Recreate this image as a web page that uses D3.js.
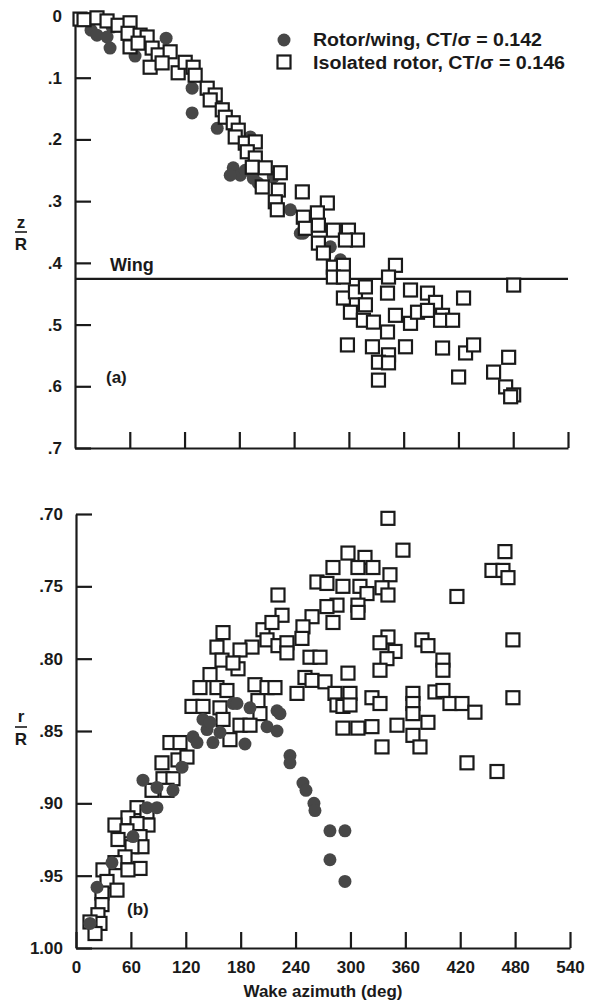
<!DOCTYPE html>
<html>
<head>
<meta charset="utf-8">
<script src="https://cdn.jsdelivr.net/npm/d3@7"></script>
<style>
  body { margin: 0; background: #fff; }
  text { font-family: "Liberation Sans", Arial, sans-serif; font-weight: bold; fill: #1a1a1a; }
</style>
</head>
<body>
<script>
// tick values
var azTicks = [0, 60, 120, 180, 240, 300, 360, 420, 480, 540];
var zTicks = [0, 0.1, 0.2, 0.3, 0.4, 0.5, 0.6, 0.7];
var rTicks = [0.70, 0.75, 0.80, 0.85, 0.90, 0.95, 1.00];
var wingZ = 0.426;

// (a) vertical displacement z/R vs wake azimuth
var rotorWingZ = [
  [17.6, 0.023], [24.1, 0.031], [38.4, 0.052], [35.1, 0.034], [40.6, 0.018],
  [65.8, 0.065], [99.8, 0.036], [128.3, 0.117], [128.3, 0.157], [155.8, 0.182],
  [192.0, 0.196], [173.3, 0.246], [181.0, 0.258], [195.3, 0.263], [186.5, 0.250],
  [217.2, 0.261], [235.9, 0.314], [250.1, 0.352], [279.7, 0.374], [290.7, 0.395],
  [294.0, 0.412], [170.0, 0.258], [200.8, 0.271], [246.8, 0.352]
];
var isolatedZ = [
  [5.5, 0.005], [9.9, 0.006], [24.1, 0.003], [35.1, 0.008], [47.2, 0.015],
  [60.3, 0.011], [58.1, 0.028], [71.3, 0.031], [79.0, 0.034], [60.3, 0.050],
  [69.1, 0.044], [84.5, 0.052], [91.1, 0.063], [104.2, 0.058], [82.3, 0.083],
  [95.4, 0.076], [113.0, 0.092], [120.7, 0.075], [129.4, 0.083], [131.6, 0.096],
  [144.8, 0.117], [153.6, 0.128], [148.1, 0.136], [161.3, 0.152], [164.6, 0.164],
  [173.3, 0.173], [178.8, 0.185], [175.5, 0.196], [186.5, 0.206], [197.5, 0.204],
  [188.7, 0.220], [197.5, 0.230], [194.2, 0.245], [208.4, 0.246], [224.9, 0.254],
  [205.1, 0.277], [222.7, 0.282], [249.0, 0.285], [219.4, 0.301], [221.6, 0.314],
  [276.4, 0.303], [250.1, 0.326], [265.5, 0.319], [252.3, 0.344], [266.6, 0.339],
  [283.0, 0.347], [299.5, 0.347], [309.4, 0.363], [266.6, 0.368], [296.2, 0.363],
  [272.1, 0.384], [283.0, 0.407], [294.0, 0.404], [351.0, 0.404], [283.0, 0.423],
  [294.0, 0.423], [343.4, 0.423], [480.5, 0.436], [294.0, 0.457], [307.2, 0.447],
  [318.1, 0.439], [342.3, 0.449], [367.5, 0.444], [386.1, 0.449], [394.9, 0.464],
  [425.6, 0.457], [301.7, 0.480], [318.1, 0.468], [315.9, 0.493], [326.9, 0.496],
  [351.0, 0.485], [367.5, 0.498], [375.2, 0.480], [386.1, 0.477], [402.6, 0.485],
  [400.4, 0.493], [413.6, 0.493], [342.3, 0.512], [298.4, 0.533], [325.8, 0.536],
  [343.4, 0.549], [362.0, 0.536], [332.4, 0.561], [343.4, 0.562], [402.6, 0.538],
  [427.8, 0.546], [436.6, 0.533], [332.4, 0.590], [420.2, 0.585], [458.5, 0.577],
  [475.0, 0.553], [471.7, 0.601], [480.5, 0.614], [477.2, 0.617]
];

// (b) radial position r/R vs wake azimuth
var rotorWingR = [
  [15.3, 0.983], [23.0, 0.958], [39.3, 0.941], [62.3, 0.923], [77.6, 0.903],
  [88.5, 0.903], [73.2, 0.884], [88.5, 0.889], [106.0, 0.891], [115.9, 0.875],
  [127.9, 0.854], [138.8, 0.842], [143.2, 0.849], [146.5, 0.844], [157.4, 0.851],
  [132.3, 0.858], [149.7, 0.858], [171.6, 0.831], [176.0, 0.831], [190.2, 0.834],
  [219.7, 0.836], [223.0, 0.838], [208.8, 0.847], [219.7, 0.850], [184.7, 0.859],
  [233.9, 0.867], [233.9, 0.872], [248.1, 0.886], [251.4, 0.891], [260.1, 0.900],
  [261.2, 0.905], [277.6, 0.919], [294.0, 0.919], [277.6, 0.939], [294.0, 0.954]
];
var isolatedR = [
  [220.8, 0.756], [204.4, 0.780], [208.8, 0.787], [220.8, 0.791], [192.4, 0.792],
  [179.3, 0.794], [160.7, 0.782], [154.1, 0.792], [159.6, 0.801], [177.1, 0.807],
  [146.5, 0.811], [135.5, 0.820], [154.1, 0.820], [165.0, 0.822], [195.6, 0.818],
  [208.8, 0.820], [217.5, 0.820], [126.8, 0.833], [138.8, 0.833], [157.4, 0.834],
  [198.9, 0.829], [201.1, 0.838], [160.7, 0.842], [179.3, 0.846], [190.2, 0.846],
  [168.3, 0.856], [102.7, 0.858], [113.7, 0.858], [94.0, 0.872], [111.5, 0.870],
  [121.3, 0.868], [95.1, 0.883], [106.0, 0.883], [83.1, 0.891], [99.5, 0.891],
  [171.6, 0.803],
  [66.7, 0.903], [77.6, 0.906], [56.8, 0.910], [42.6, 0.915], [78.7, 0.915],
  [66.7, 0.914], [55.7, 0.919], [70.0, 0.923], [72.1, 0.930], [61.2, 0.930],
  [45.9, 0.925], [53.6, 0.937], [42.6, 0.941], [70.0, 0.945], [56.8, 0.946],
  [29.5, 0.946], [33.9, 0.954], [44.8, 0.960], [28.4, 0.962], [28.4, 0.970],
  [24.0, 0.977], [26.2, 0.983], [15.3, 0.982], [20.8, 0.990],
  [341.0, 0.703], [357.4, 0.725], [468.9, 0.726], [454.7, 0.739], [466.7, 0.739],
  [472.2, 0.744], [297.3, 0.727], [315.9, 0.730], [280.9, 0.737], [308.2, 0.737],
  [324.6, 0.737], [343.2, 0.742], [263.4, 0.747], [274.3, 0.748], [291.8, 0.750],
  [310.4, 0.750], [334.5, 0.751], [341.0, 0.756], [318.1, 0.755], [416.4, 0.757],
  [285.3, 0.763], [308.2, 0.763], [274.3, 0.764], [280.9, 0.775], [308.2, 0.768],
  [258.0, 0.771], [248.1, 0.778], [225.2, 0.770], [214.2, 0.775], [247.0, 0.786],
  [230.6, 0.789], [230.6, 0.796], [341.0, 0.785], [332.3, 0.789], [348.7, 0.795],
  [339.9, 0.800], [332.3, 0.808], [378.2, 0.787], [384.7, 0.791], [401.1, 0.801],
  [401.1, 0.808], [477.6, 0.787], [255.8, 0.799], [266.7, 0.799], [297.3, 0.810],
  [250.3, 0.813], [258.0, 0.815], [272.2, 0.816], [241.6, 0.824], [283.1, 0.824],
  [299.5, 0.824], [285.3, 0.832], [291.8, 0.833], [299.5, 0.832], [323.5, 0.827],
  [332.3, 0.831], [368.3, 0.824], [368.3, 0.831], [368.3, 0.838], [392.4, 0.823],
  [401.1, 0.822], [408.8, 0.831], [421.9, 0.831], [436.1, 0.837], [477.6, 0.827],
  [291.8, 0.848], [308.2, 0.848], [323.5, 0.847], [350.9, 0.846], [368.3, 0.853],
  [384.7, 0.844], [334.5, 0.861], [376.0, 0.861], [427.4, 0.872], [460.2, 0.878]
];

var W = 589, H = 1006;
var ink = "#1a1a1a";
var dotFill = "#474747";

// Create SVG
var svg = d3.select("body")
  .append("svg")
  .attr("width", W)
  .attr("height", H);

var xTop = d3.scaleLinear().domain([0, 540]).range([75, 568]);
var yTop = d3.scaleLinear().domain([0, 0.7]).range([16, 448]);
var xBot = d3.scaleLinear().domain([0, 540]).range([76, 570]);
var yBot = d3.scaleLinear().domain([0.70, 1.00]).range([514, 948]);

function styleAxis(g) {
  g.select(".domain").attr("stroke", ink).attr("stroke-width", 2.2);
  g.selectAll(".tick line").attr("stroke", ink).attr("stroke-width", 2.2);
  g.selectAll(".tick text").attr("font-size", "17px").attr("fill", ink)
    .attr("font-family", '"Liberation Sans", Arial, sans-serif').attr("font-weight", "bold");
}

function drawDots(g, data, x, y) {
  g.selectAll("circle")
    .data(data)
    .enter()
    .append("circle")
      .attr("cx", function(d) { return x(d[0]); })
      .attr("cy", function(d) { return y(d[1]); })
      .attr("r", 6.5)
      .attr("fill", dotFill);
}

function drawBoxes(g, data, x, y) {
  g.selectAll("rect")
    .data(data)
    .enter()
    .append("rect")
      .attr("x", function(d) { return x(d[0]) - 6.5; })
      .attr("y", function(d) { return y(d[1]) - 6.5; })
      .attr("width", 13).attr("height", 13)
      .attr("fill", "#fff").attr("stroke", ink).attr("stroke-width", 2.2);
}

// ---- panel (a) ----
svg.append("g")
  .attr("transform", "translate(" + xTop(0) + ",0)")
  .call(d3.axisLeft(yTop).tickValues(zTicks).tickSize(-16).tickSizeOuter(0).tickPadding(13)
    .tickFormat(function(d) { return d === 0 ? "0" : d3.format(".1f")(d).replace("0.", "."); }))
  .call(styleAxis);

svg.append("g")
  .attr("transform", "translate(0," + yTop(0.7) + ")")
  .call(d3.axisBottom(xTop).tickValues(azTicks.slice(1)).tickSize(-16).tickSizeOuter(0).tickFormat(""))
  .call(styleAxis);

// wing line
svg.append("line")
  .attr("x1", xTop(0)).attr("x2", xTop(540))
  .attr("y1", yTop(wingZ)).attr("y2", yTop(wingZ))
  .attr("stroke", ink).attr("stroke-width", 2.2);

svg.append("text").attr("x", 110).attr("y", 271).attr("font-size", "18px").text("Wing");
svg.append("text").attr("x", 106).attr("y", 383).attr("font-size", "17px").text("(a)");

// y label z/R
svg.append("text").attr("x", 21).attr("y", 228).attr("text-anchor", "middle").attr("font-size", "17px").text("z");
svg.append("line").attr("x1", 15).attr("x2", 27).attr("y1", 232).attr("y2", 232).attr("stroke", ink).attr("stroke-width", 1.6);
svg.append("text").attr("x", 21).attr("y", 250).attr("text-anchor", "middle").attr("font-size", "17px").text("R");

// points: squares sit over the dots here
drawDots(svg.append("g"), rotorWingZ, xTop, yTop);
drawBoxes(svg.append("g"), isolatedZ, xTop, yTop);

// legend
svg.append("circle").attr("cx", 284).attr("cy", 40).attr("r", 6.5).attr("fill", dotFill);
svg.append("rect").attr("x", 277.5).attr("y", 55.5).attr("width", 13).attr("height", 13)
  .attr("fill", "#fff").attr("stroke", ink).attr("stroke-width", 2.2);
svg.append("text").attr("x", 313).attr("y", 46).attr("font-size", "18px")
  .attr("textLength", 229).attr("lengthAdjust", "spacingAndGlyphs")
  .text("Rotor/wing, CT/\u03c3 = 0.142");
svg.append("text").attr("x", 313).attr("y", 69).attr("font-size", "18px")
  .attr("textLength", 252).attr("lengthAdjust", "spacingAndGlyphs")
  .text("Isolated rotor, CT/\u03c3 = 0.146");

// ---- panel (b) ----
svg.append("g")
  .attr("transform", "translate(" + xBot(0) + ",0)")
  .call(d3.axisLeft(yBot).tickValues(rTicks).tickSize(-16).tickSizeOuter(0).tickPadding(13)
    .tickFormat(function(d) { return d >= 1 ? "1.00" : d3.format(".2f")(d).replace("0.", "."); }))
  .call(styleAxis);

svg.append("g")
  .attr("transform", "translate(0," + yBot(1.00) + ")")
  .call(d3.axisBottom(xBot).tickValues(azTicks).tickSize(-16).tickSizeOuter(0).tickPadding(13)
    .tickFormat(d3.format("d")))
  .call(styleAxis);

svg.append("text").attr("x", 323).attr("y", 997).attr("text-anchor", "middle").attr("font-size", "17px")
  .text("Wake azimuth (deg)");
svg.append("text").attr("x", 127).attr("y", 915).attr("font-size", "17px").text("(b)");

// y label r/R
svg.append("text").attr("x", 21).attr("y", 722).attr("text-anchor", "middle").attr("font-size", "17px").text("r");
svg.append("line").attr("x1", 15).attr("x2", 27).attr("y1", 727).attr("y2", 727).attr("stroke", ink).attr("stroke-width", 1.6);
svg.append("text").attr("x", 21).attr("y", 745).attr("text-anchor", "middle").attr("font-size", "17px").text("R");

// points: dots sit over the squares here
drawBoxes(svg.append("g"), isolatedR, xBot, yBot);
drawDots(svg.append("g"), rotorWingR, xBot, yBot);
</script>
</body>
</html>
